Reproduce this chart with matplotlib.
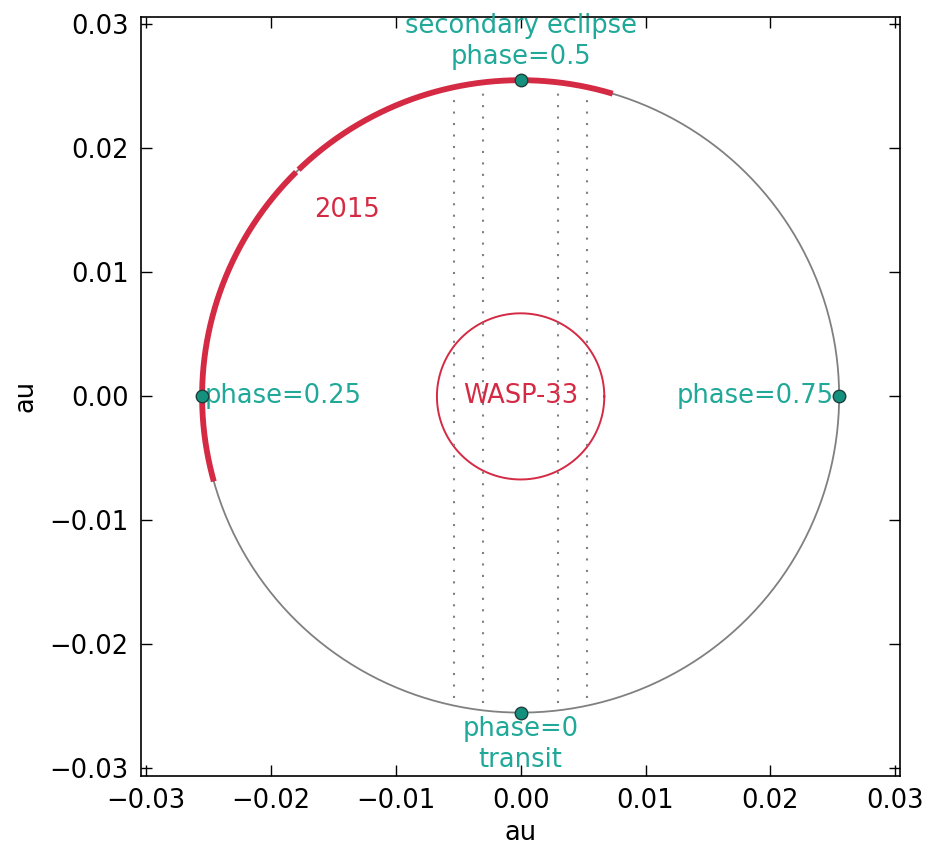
import numpy as np
import matplotlib
matplotlib.use("Agg")
import matplotlib.pyplot as plt

# orbit / star geometry (au)
a_orbit = 0.0255
r_star = 0.0067
# observed phase coverage, as angles on the orbit (deg)
arc_starts = [73.2, 134.8]
arc_ends = [134.2, 195.6]
# x positions of dotted lines (au)
line_x = [-0.0053, -0.0030, 0.0030, 0.0053]
# phase markers
phase_x = [0.0, 0.0, -a_orbit, a_orbit]
phase_y = [a_orbit, -a_orbit, 0.0, 0.0]

teal = '#20a898'
teal_dark = '#14907f'
red = '#d42a44'

fig = plt.figure(figsize=(9.33, 8.47), dpi=100)
ax = fig.add_axes([0.151, 0.084, 0.814, 0.896])

t = np.linspace(0, 2 * np.pi, 600)
ax.plot(a_orbit * np.cos(t), a_orbit * np.sin(t), color='grey', lw=1.3)
ax.plot(r_star * np.cos(t), r_star * np.sin(t), color=red, lw=1.4)

for x in line_x:
    h = np.sqrt(a_orbit**2 - x**2)
    ax.plot([x, x], [-h + 0.0006, h - 0.0006], color='grey', ls=(0, (1, 4.5)), lw=1.5)

for s, e in zip(arc_starts, arc_ends):
    th = np.radians(np.linspace(s, e, 200))
    ax.plot(a_orbit * np.cos(th), a_orbit * np.sin(th), color=red, lw=4.2,
            solid_capstyle='butt', zorder=3)

ax.plot(phase_x, phase_y, 'o', color=teal_dark, mec='#1f3f3a', mew=1.0,
        ms=9, zorder=4)

fs = 18.5
ax.text(0, 0.0263, 'secondary eclipse\nphase=0.5', color=teal, fontsize=fs,
        ha='center', va='bottom', linespacing=1.25)
ax.text(0, -0.0258, 'phase=0\ntransit', color=teal, fontsize=fs,
        ha='center', va='top', linespacing=1.25)
ax.text(-0.0253, 0, 'phase=0.25', color=teal, fontsize=fs, ha='left', va='center')
ax.text(0.0251, 0, 'phase=0.75', color=teal, fontsize=fs, ha='right', va='center')
ax.text(-0.0139, 0.0150, '2015', color=red, fontsize=fs, ha='center', va='center')
ax.text(0, 0, 'WASP-33', color=red, fontsize=fs, ha='center', va='center')

ax.set_xlim(-0.0304, 0.0304)
ax.set_ylim(-0.0306, 0.0306)
ticks = [-0.03, -0.02, -0.01, 0.0, 0.01, 0.02, 0.03]
ax.set_xticks(ticks)
ax.set_yticks(ticks)
labels = [('%.2f' % v).replace('-', '\u2212') for v in ticks]
ax.set_xticklabels(labels)
ax.set_yticklabels(labels)
ax.tick_params(direction='in', top=True, right=True, length=8, width=1,
               labelsize=fs, pad=9)
for sp in ax.spines.values():
    sp.set_linewidth(1.2)
ax.set_xlabel('au', fontsize=fs, labelpad=4)
ax.set_ylabel('au', fontsize=fs, labelpad=8)

fig.savefig('out.png', dpi=100)
